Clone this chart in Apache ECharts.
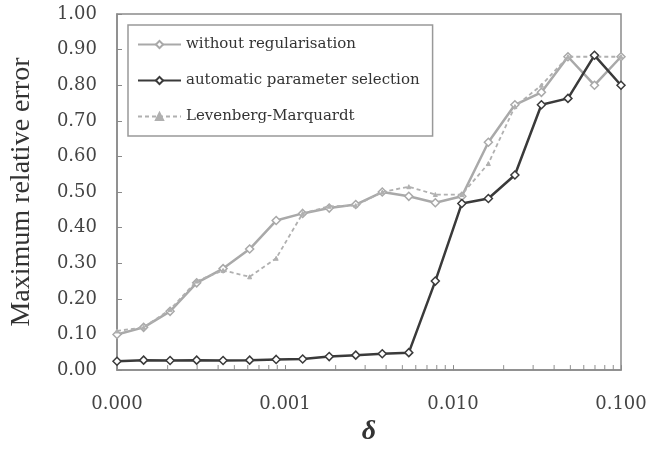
<!DOCTYPE html>
<html><head><meta charset="utf-8">
<script src="https://cdn.jsdelivr.net/npm/echarts@6/dist/echarts.min.js"></script>
<style>html,body{margin:0;padding:0;background:#fff}#c{width:662px;height:451px}</style>
</head><body><div id="c"></div>
<script>
const deltas = [0.0001, 0.000144, 0.000207, 0.000298, 0.000428, 0.000616, 0.000886, 0.001274, 0.001833, 0.002637, 0.003793, 0.005456, 0.007848, 0.011288, 0.016238, 0.023357, 0.033598, 0.048329, 0.069519, 0.1];
const withoutReg = [0.10, 0.12, 0.165, 0.245, 0.285, 0.34, 0.42, 0.44, 0.455, 0.465, 0.50, 0.488, 0.47, 0.488, 0.64, 0.745, 0.78, 0.88, 0.80, 0.88];
const autoParam = [0.025, 0.028, 0.027, 0.028, 0.027, 0.028, 0.030, 0.031, 0.038, 0.042, 0.046, 0.049, 0.25, 0.468, 0.482, 0.548, 0.745, 0.763, 0.884, 0.80];
const levMarq = [0.11, 0.12, 0.17, 0.25, 0.28, 0.262, 0.314, 0.44, 0.46, 0.462, 0.50, 0.515, 0.493, 0.493, 0.58, 0.74, 0.80, 0.88, 0.88, 0.88];
const seriesNames = ['without regularisation', 'automatic parameter selection', 'Levenberg-Marquardt'];
const minorTickValues = [0.0002,0.0003,0.0004,0.0005,0.0006,0.0007,0.0008,0.0009,0.002,0.003,0.004,0.005,0.006,0.007,0.008,0.009,0.02,0.03,0.04,0.05,0.06,0.07,0.08,0.09];

const pair = ys => ys.map((y, i) => [deltas[i], y]);
const serif = 'DejaVu Serif';
const chart = echarts.init(document.getElementById('c'));
chart.setOption({
  animation: false,
  backgroundColor: '#fff',
  grid: { left: 117, right: 41, top: 14, bottom: 74, show: true, borderColor: '#8a8a8a', borderWidth: 1.5 },
  legend: {
    orient: 'vertical', left: 128, top: 25,
    padding: [12, 13, 12, 9], itemGap: 21, itemWidth: 43, itemHeight: 9,
    borderColor: '#999', borderWidth: 1.5, backgroundColor: '#fff',
    data: seriesNames,
    textStyle: { fontFamily: serif, fontSize: 15, color: '#333' }
  },
  xAxis: {
    type: 'log', min: 0.0001, max: 0.1, logBase: 10,
    name: 'δ', nameLocation: 'middle', nameGap: 47,
    nameTextStyle: { fontFamily: 'Liberation Serif', fontStyle: 'italic', fontWeight: 'bold', fontSize: 28, color: '#333' },
    axisLine: { lineStyle: { color: '#8a8a8a', width: 1.5 } },
    axisTick: { inside: true, length: 5, lineStyle: { color: '#8a8a8a' } },
    splitLine: { show: false },
    axisLabel: { fontFamily: serif, fontSize: 18, color: '#444', margin: 25, formatter: v => v.toFixed(3) }
  },
  yAxis: {
    type: 'value', min: 0, max: 1, interval: 0.1,
    name: 'Maximum relative error', nameLocation: 'middle', nameGap: 81, nameRotate: 90,
    nameTextStyle: { fontFamily: 'Liberation Serif', fontSize: 28, color: '#333' },
    axisLine: { show: true, lineStyle: { color: '#8a8a8a', width: 1.5 } },
    axisTick: { show: true, inside: true, length: 5, lineStyle: { color: '#8a8a8a' } },
    splitLine: { show: false },
    axisLabel: { fontFamily: serif, fontSize: 18, color: '#444', margin: 20, formatter: v => v.toFixed(2) }
  },
  series: [
    {
      name: seriesNames[0], type: 'line', data: pair(withoutReg), z: 3,
      symbol: 'diamond', symbolSize: 8, showAllSymbol: true,
      lineStyle: { color: '#a9a9a9', width: 2.5 },
      itemStyle: { color: '#fff', borderColor: '#a9a9a9', borderWidth: 1.5 }
    },
    {
      name: seriesNames[1], type: 'line', data: pair(autoParam), z: 5,
      symbol: 'diamond', symbolSize: 8, showAllSymbol: true,
      lineStyle: { color: '#3a3a3a', width: 2.5 },
      itemStyle: { color: '#fff', borderColor: '#3a3a3a', borderWidth: 1.5 }
    },
    {
      name: seriesNames[2], type: 'line', data: pair(levMarq), z: 4,
      symbol: 'triangle', symbolSize: 4, showAllSymbol: true,
      lineStyle: { color: '#b0b0b0', width: 1.8, type: [4, 3] },
      itemStyle: { color: '#b0b0b0', borderColor: '#b0b0b0', borderWidth: 1 }
    },
    {
      name: 'minor ticks', type: 'scatter', silent: true, z: 2,
      data: minorTickValues.map(v => [v, 0]),
      symbol: 'rect', symbolSize: [1.2, 5], symbolOffset: [0, -2.5],
      itemStyle: { color: '#8a8a8a' }
    }
  ]
});
</script></body></html>
